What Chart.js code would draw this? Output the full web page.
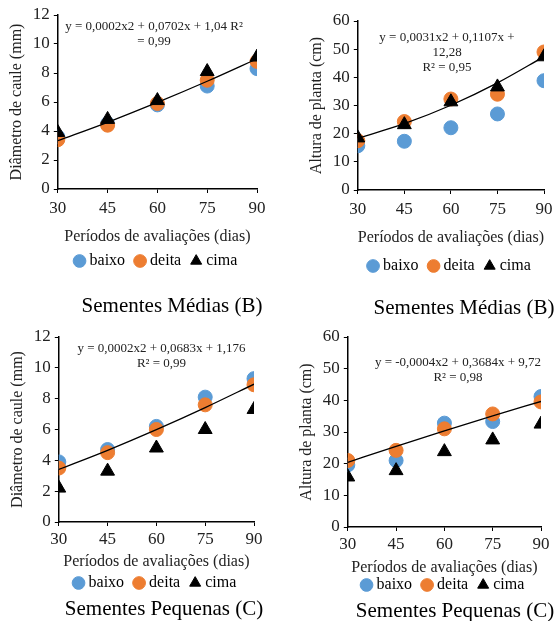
<!DOCTYPE html>
<html>
<head>
<meta charset="utf-8">
<script src="https://cdn.jsdelivr.net/npm/chart.js@4"></script>
<style>
  body { margin: 0; background: #fff; overflow: hidden; }
  .painel { position: absolute; }
  .subtitulo { position: absolute; width: 300px; text-align: center; line-height: 24px;
               font-family: "Liberation Serif", "Times New Roman", serif; font-size: 21px; color: #000; white-space: nowrap; }
</style>
</head>
<body>
<div class="painel" style="left:0;top:0"><canvas id="g1" width="278" height="320"></canvas></div>
<div class="painel" style="left:278px;top:0"><canvas id="g2" width="290" height="320"></canvas></div>
<div class="painel" style="left:0;top:320px"><canvas id="g3" width="278" height="301"></canvas></div>
<div class="painel" style="left:278px;top:320px"><canvas id="g4" width="290" height="301"></canvas></div>
<div class="subtitulo" style="left:22px;top:293px">Sementes Médias (B)</div>
<div class="subtitulo" style="left:314px;top:295px">Sementes Médias (B)</div>
<div class="subtitulo" style="left:14px;top:596px">Sementes Pequenas (C)</div>
<div class="subtitulo" style="left:305px;top:598px">Sementes Pequenas (C)</div>
<script>
const dias = [30, 45, 60, 75, 90];

// Sementes Médias - diâmetro
const diamMediasBaixo = [3.6, 4.5, 5.8, 7.1, 8.3];
const diamMediasDeita = [3.4, 4.4, 5.9, 7.5, 8.8];
const diamMediasCima = [3.9, 4.8, 6.1, 8.1, 9.1];
const diamMediasTend = [3.33, 4.60, 5.97, 7.43, 8.98];

// Sementes Médias - altura
const altMediasBaixo = [15.7, 17.3, 22.1, 27.0, 38.8];
const altMediasDeita = [17.5, 24.3, 32.3, 34.0, 49.0];
const altMediasCima = [18.5, 23.2, 31.3, 36.6, 47.3];
const altMediasTend = [18.39, 23.54, 30.08, 38.02, 47.35];

// Sementes Pequenas - diâmetro
const diamPeqBaixo = [3.9, 4.7, 6.2, 8.1, 9.3];
const diamPeqDeita = [3.5, 4.5, 6.0, 7.6, 8.9];
const diamPeqCima = [2.2, 3.3, 4.8, 6.0, 7.3];
const diamPeqTend = [3.41, 4.65, 5.99, 7.42, 8.94];

// Sementes Pequenas - altura
const altPeqBaixo = [19.6, 21.0, 32.8, 33.3, 41.2];
const altPeqDeita = [21.0, 24.2, 31.0, 35.7, 39.5];
const altPeqCima = [15.8, 17.8, 23.8, 27.5, 32.5];
const altPeqTend = [20.41, 25.49, 30.38, 35.10, 39.64];

const azul = '#5B9BD5';
const laranja = '#ED7D31';
const fonte = '"Liberation Serif", "Times New Roman", serif';

function pontos(valores) {
    return dias.map((d, i) => ({ x: d, y: valores[i] }));
}

// escreve a equação da linha de tendência
const equacaoPlugin = {
    id: 'equacao',
    afterDatasetsDraw(chart, args, opts) {
        const ctx = chart.ctx;
        ctx.save();
        ctx.font = '13px ' + fonte;
        ctx.fillStyle = '#222';
        ctx.textAlign = 'center';
        ctx.textBaseline = 'middle';
        opts.linhas.forEach((t, i) => {
            ctx.fillText(t, opts.x, opts.y + i * 15);
        });
        ctx.restore();
    }
};

function criarGrafico(id, cfg) {
    const ctx = document.getElementById(id).getContext('2d');
    return new Chart(ctx, {
        type: 'scatter',
        data: {
            datasets: [
                { label: 'baixo', data: pontos(cfg.baixo), backgroundColor: azul, borderColor: azul,
                  pointRadius: 7, pointStyle: 'circle', order: 3 },
                { label: 'deita', data: pontos(cfg.deita), backgroundColor: laranja, borderColor: laranja,
                  pointRadius: 7, pointStyle: 'circle', order: 2 },
                { label: 'cima', data: pontos(cfg.cima), backgroundColor: '#000', borderColor: '#000',
                  pointRadius: 8, pointStyle: 'triangle', order: 0 },
                { label: 'tendencia', type: 'line', data: pontos(cfg.tend), borderColor: '#000',
                  borderWidth: 1.3, pointRadius: 0, cubicInterpolationMode: 'monotone', fill: false, order: 1 }
            ]
        },
        options: {
            responsive: false,
            animation: false,
            layout: { padding: cfg.padding },
            plugins: {
                tooltip: { enabled: false },
                legend: {
                    position: 'bottom',
                    fullSize: false,
                    labels: {
                        filter: item => item.text !== 'tendencia',
                        sort: (a, b) => a.datasetIndex - b.datasetIndex,
                        usePointStyle: true,
                        boxWidth: 4, boxHeight: 9,
                        padding: 13,
                        color: '#000',
                        font: { family: fonte, size: 16 }
                    }
                },
                equacao: cfg.equacao
            },
            scales: {
                x: {
                    type: 'linear',
                    min: 30, max: 90,
                    border: { color: '#000', width: 1.5 },
                    grid: { drawOnChartArea: false, color: '#000', tickLength: 4 },
                    ticks: { stepSize: 15, color: '#222', padding: cfg.tickPad, font: { family: fonte, size: 17 } },
                    title: { display: true, text: 'Períodos de avaliações (dias)', color: '#222',
                             font: { family: fonte, size: 16 },
                             padding: { top: cfg.xTitGap, bottom: cfg.xTitBaixo } }
                },
                y: {
                    min: 0, max: cfg.ymax,
                    border: { color: '#000', width: 1.5 },
                    grid: { drawOnChartArea: false, color: '#000', tickLength: 4 },
                    ticks: { stepSize: cfg.ystep, color: '#222', padding: 4, font: { family: fonte, size: 17 } },
                    title: { display: true, text: cfg.ytitulo, color: '#222',
                             font: { family: fonte, size: 16 }, padding: 2 }
                }
            }
        },
        plugins: [equacaoPlugin]
    });
}

criarGrafico('g1', {
    baixo: diamMediasBaixo, deita: diamMediasDeita, cima: diamMediasCima, tend: diamMediasTend,
    ymax: 12, ystep: 2, ytitulo: 'Diâmetro de caule (mm)',
    padding: { left: 5.6, right: 21, top: 15, bottom: 41 },
    tickPad: 5.8, xTitGap: 2.4, xTitBaixo: -6.6,
    equacao: { x: 154, y: 27, linhas: ['y = 0,0002x2 + 0,0702x + 1,04 R²', '= 0,99'] }
});

criarGrafico('g2', {
    baixo: altMediasBaixo, deita: altMediasDeita, cima: altMediasCima, tend: altMediasTend,
    ymax: 60, ystep: 10, ytitulo: 'Altura de planta (cm)',
    padding: { left: 27.6, right: 24, top: 21, bottom: 36 },
    tickPad: 5.8, xTitGap: 2.4, xTitBaixo: -2.6,
    equacao: { x: 169, y: 38, linhas: ['y = 0,0031x2 + 0,1107x +', '12,28', 'R² = 0,95'] }
});

criarGrafico('g3', {
    baixo: diamPeqBaixo, deita: diamPeqDeita, cima: diamPeqCima, tend: diamPeqTend,
    ymax: 12, ystep: 2, ytitulo: 'Diâmetro de caule (mm)',
    padding: { left: 6.6, right: 24, top: 17, bottom: 20 },
    tickPad: 3.8, xTitGap: -1.6, xTitBaixo: -9.6,
    equacao: { x: 161.5, y: 29, linhas: ['y = 0,0002x2 + 0,0683x + 1,176', 'R² = 0,99'] }
});

criarGrafico('g4', {
    baixo: altPeqBaixo, deita: altPeqDeita, cima: altPeqCima, tend: altPeqTend,
    ymax: 60, ystep: 10, ytitulo: 'Altura de planta (cm)',
    padding: { left: 17.6, right: 27, top: 17, bottom: 18 },
    tickPad: 3.8, xTitGap: -0.6, xTitBaixo: -13.6,
    equacao: { x: 180, y: 43, linhas: ['y = -0,0004x2 + 0,3684x + 9,72', 'R² = 0,98'] }
});
</script>
</body>
</html>
